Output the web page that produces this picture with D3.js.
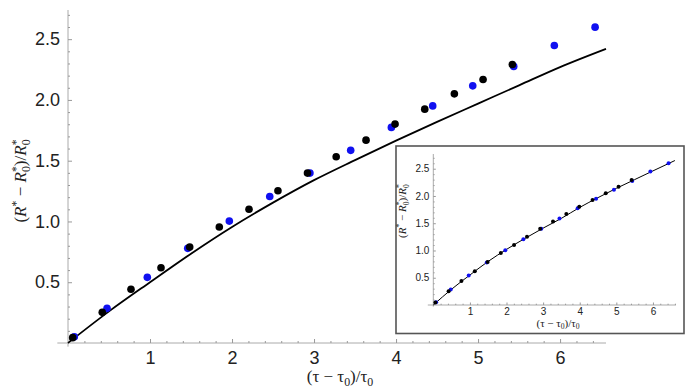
<!DOCTYPE html>
<html>
<head>
<meta charset="utf-8">
<script src="https://cdn.jsdelivr.net/npm/d3@7"></script>
<style>
    body { margin: 0; background: #fff; }
    svg { display: block; }
    .tick text { font-family: 'Liberation Sans', Arial, sans-serif; fill: #222; }
    .tick line { stroke: #999; }
    .title { font-family: 'Liberation Serif', 'Times New Roman', serif; fill: #222; }
</style>
</head>
<body>
<div id="chart"></div>
<script>
const WIDTH = 692;
const HEIGHT = 392;

// blue series
const blueX = [0.077, 0.476, 0.967, 1.46, 1.967, 2.46, 2.95, 3.447, 3.943, 4.447, 4.935, 5.435, 5.93, 6.427];
const blueY = [0.052, 0.285, 0.54, 0.779, 1.003, 1.206, 1.398, 1.585, 1.774, 1.951, 2.116, 2.276, 2.448, 2.599];

// black series
const blackX = [0.057, 0.418, 0.768, 1.134, 1.484, 1.845, 2.207, 2.56, 2.92, 3.27, 3.634, 3.988, 4.35, 4.711, 5.061, 5.418];
const blackY = [0.044, 0.252, 0.442, 0.619, 0.789, 0.954, 1.10, 1.253, 1.398, 1.532, 1.669, 1.801, 1.924, 2.05, 2.168, 2.292];

// model curve in the main panel
const curveX = [0, 0.5, 1, 1.5, 2, 2.5, 3, 3.5, 4, 4.5, 5, 5.5, 6, 6.56];
const curveY = [0, 0.26, 0.50, 0.735, 0.955, 1.155, 1.34, 1.505, 1.665, 1.82, 1.97, 2.12, 2.27, 2.42];

// fitted curve in the inset
const insetCurveX = [0, 0.5, 1, 1.5, 2, 2.5, 3, 3.5, 4, 4.5, 5, 5.5, 6, 6.6];
const insetCurveY = [0, 0.29, 0.55, 0.80, 1.02, 1.22, 1.41, 1.59, 1.79, 1.97, 2.14, 2.30, 2.46, 2.65];

const xTicks = [1, 2, 3, 4, 5, 6];
const yTicks = [0.5, 1.0, 1.5, 2.0, 2.5];

const svg = d3.select('#chart')
    .append('svg')
    .attr('width', WIDTH)
    .attr('height', HEIGHT);

function zip(xs, ys) {
    return xs.map((v, i) => ({ x: v, y: ys[i] }));
}

// Draws axes, curve and dots into a panel
function drawPanel(g, opt) {
    const x = d3.scaleLinear().domain(opt.xDomain).range(opt.xRange);
    const y = d3.scaleLinear().domain(opt.yDomain).range(opt.yRange);

    const xMinor = d3.range(0.2, opt.xDomain[1], 0.2).filter(v => Math.abs(v - Math.round(v)) > 0.01);
    const yMinor = d3.range(0.1, opt.yDomain[1], 0.1).filter(v => Math.abs(v * 2 - Math.round(v * 2)) > 0.01);

    // axis lines
    g.append('line')
        .attr('x1', x(opt.xStart)).attr('x2', x(opt.xDomain[1]))
        .attr('y1', y(0)).attr('y2', y(0))
        .attr('stroke', '#aaa').attr('stroke-width', 1);
    g.append('line')
        .attr('x1', x(0)).attr('x2', x(0))
        .attr('y1', y(opt.yStart)).attr('y2', y(opt.yDomain[1]))
        .attr('stroke', '#aaa').attr('stroke-width', 1);

    // minor ticks
    const xm = g.append('g')
        .attr('transform', `translate(0,${y(0)})`)
        .call(d3.axisBottom(x).tickValues(xMinor).tickSizeInner(-opt.minor).tickSizeOuter(0).tickFormat(''));
    xm.select('.domain').remove();
    const ym = g.append('g')
        .attr('transform', `translate(${x(0)},0)`)
        .call(d3.axisLeft(y).tickValues(yMinor).tickSizeInner(-opt.minor).tickSizeOuter(0).tickFormat(''));
    ym.select('.domain').remove();

    // major ticks
    const xa = g.append('g')
        .attr('transform', `translate(0,${y(0)})`)
        .call(d3.axisBottom(x).tickValues(xTicks).tickSizeInner(-opt.major).tickSizeOuter(0)
            .tickPadding(opt.xPad).tickFormat(d3.format('d')));
    xa.select('.domain').remove();
    xa.selectAll('text').style('font-size', opt.font + 'px');

    const ya = g.append('g')
        .attr('transform', `translate(${x(0)},0)`)
        .call(d3.axisLeft(y).tickValues(yTicks).tickSizeInner(-opt.major).tickSizeOuter(0)
            .tickPadding(opt.yPad).tickFormat(d3.format('.1f')));
    ya.select('.domain').remove();
    ya.selectAll('text').style('font-size', opt.font + 'px');
    g.selectAll('.tick line').attr('stroke', '#999');

    // curve
    const line = d3.line()
        .x(d => x(d.x))
        .y(d => y(d.y))
        .curve(d3.curveMonotoneX);
    g.append('path')
        .datum(zip(opt.curveX, opt.curveY))
        .attr('fill', 'none')
        .attr('stroke', '#000')
        .attr('stroke-width', opt.lineWidth)
        .attr('d', line);

    // dots
    g.append('g').selectAll('circle')
        .data(zip(blueX, blueY))
        .join('circle')
        .attr('cx', d => x(d.x))
        .attr('cy', d => y(d.y))
        .attr('r', opt.r)
        .attr('fill', '#1010f0');
    g.append('g').selectAll('circle')
        .data(zip(blackX, blackY))
        .join('circle')
        .attr('cx', d => x(d.x))
        .attr('cy', d => y(d.y))
        .attr('r', opt.r)
        .attr('fill', '#000');

    // x title
    const xt = g.append('text')
        .attr('class', 'title')
        .attr('x', opt.xTitle[0])
        .attr('y', opt.xTitle[1])
        .attr('text-anchor', 'middle')
        .style('font-size', opt.titleFont + 'px');
    const s = opt.titleFont;
    xt.append('tspan').text('(τ − τ');
    xt.append('tspan').text('0').style('font-size', (s * 0.7) + 'px').attr('dy', s * 0.22);
    xt.append('tspan').text(')/τ').attr('dy', -s * 0.22);
    xt.append('tspan').text('0').style('font-size', (s * 0.7) + 'px').attr('dy', s * 0.22);

    // y title
    const yt = g.append('text')
        .attr('class', 'title')
        .attr('transform', `translate(${opt.yTitle[0]},${opt.yTitle[1]}) rotate(-90)`)
        .attr('text-anchor', 'middle')
        .style('font-size', s + 'px');
    const sub = s * 0.7;
    yt.append('tspan').text('(');
    yt.append('tspan').text('R').style('font-style', 'italic');
    yt.append('tspan').text('*').style('font-size', sub + 'px').attr('dy', -s * 0.35);
    yt.append('tspan').text(' − ').attr('dy', s * 0.35);
    yt.append('tspan').text('R').style('font-style', 'italic');
    yt.append('tspan').text('0').style('font-size', sub + 'px').attr('dy', s * 0.25);
    yt.append('tspan').text('*').style('font-size', sub + 'px').attr('dx', -sub * 0.5).attr('dy', -s * 0.6);
    yt.append('tspan').text(')/').attr('dy', s * 0.35);
    yt.append('tspan').text('R').style('font-style', 'italic');
    yt.append('tspan').text('0').style('font-size', sub + 'px').attr('dy', s * 0.25);
    yt.append('tspan').text('*').style('font-size', sub + 'px').attr('dx', -sub * 0.5).attr('dy', -s * 0.6);
}

// Main panel
drawPanel(svg.append('g'), {
    xDomain: [0, 6.56], xRange: [68, 606],
    yDomain: [0, 2.74], yRange: [343, 10],
    xStart: -0.13, yStart: -0.03,
    major: 4, minor: 2, xPad: 8, yPad: 8,
    font: 18, titleFont: 17, lineWidth: 1.8, r: 3.8,
    curveX: curveX, curveY: curveY,
    xTitle: [340, 382], yTitle: [26, 181],
});

// Inset
const inset = svg.append('g');
inset.append('rect')
    .attr('x', 396).attr('y', 146)
    .attr('width', 288).attr('height', 187.5)
    .attr('fill', '#fff')
    .attr('stroke', '#555')
    .attr('stroke-width', 1.6);

drawPanel(inset, {
    xDomain: [0, 6.63], xRange: [433.3, 676],
    yDomain: [0, 2.77], yRange: [305, 154],
    xStart: -0.15, yStart: -0.03,
    major: 2.5, minor: 1.3, xPad: 3, yPad: 4,
    font: 10, titleFont: 11, lineWidth: 1, r: 2,
    curveX: insetCurveX, curveY: insetCurveY,
    xTitle: [558, 327], yTitle: [406, 211],
});
</script>
</body>
</html>
